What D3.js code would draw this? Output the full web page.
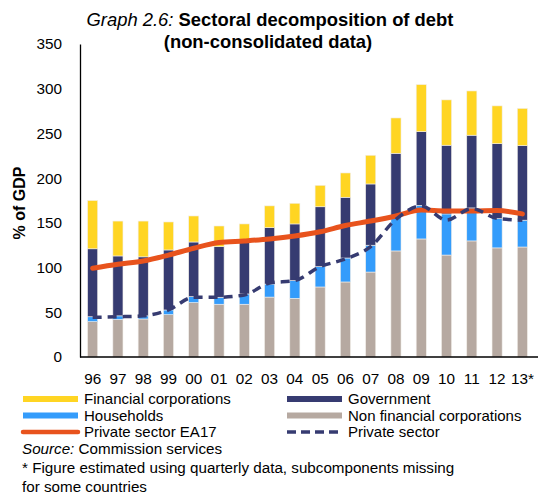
<!DOCTYPE html>
<html><head><meta charset="utf-8">
<script src="https://cdn.jsdelivr.net/npm/d3@7"></script>
<style>body{margin:0;background:#fff}svg{font-family:"Liberation Sans",Arial,sans-serif}</style>
</head><body><svg id="c" width="538" height="495"></svg>
<script>
const years = ["96","97","98","99","00","01","02","03","04","05","06","07","08","09","10","11","12","13*"];
// segment heights (stack order bottom->top)
const nonFinCorp = [39.5,42,42.5,47.3,60.8,59,59,67,65.6,78.3,83.9,95,118.6,132,114,129.8,122,123];
const households = [5.5,4,3.5,5.3,6.7,7.8,11.5,14.6,19.8,22.7,26.8,30,38.4,37.6,46,36.9,32.7,30];
const government = [76,67,66,67.1,61.1,56.6,57.4,63,63.4,67,67.9,68.5,70.8,82.4,76.8,81.3,83.9,83.4];
const financial = [54,39,40,31.3,29.1,23.1,20.9,24.4,23.1,24,27.2,32.1,39.5,52.6,50.7,49.5,42.2,41.6];
const privateEA17 = [99.2,103.7,107.4,114,121.6,128,129.8,132,135.3,140,147,152,157.7,164.4,163.3,163.3,163.7,160];
const privateSector = [44.4,45,46,52.6,66.8,66.8,69.4,82.6,85.5,101,109.6,123.4,154,169,153,166,155,153];
const yTicks = [0,50,100,150,200,250,300,350];

const svg = d3.select("#c");
const x = d3.scaleBand().domain(years).range([80,535]).paddingInner(0.6).paddingOuter(0.3);
const y = d3.scaleLinear().domain([0,350]).range([357,44]);

const keys = ["nfc","hh","gov","fin"];
const colors = {nfc:"#B6A9A1",hh:"#349CFB",gov:"#363B71",fin:"#FFD523"};
const rows = years.map((yr,i)=>({yr,nfc:nonFinCorp[i],hh:households[i],gov:government[i],fin:financial[i]}));
const stack = d3.stack().keys(keys)(rows);

svg.append("g").selectAll("g").data(stack).join("g").attr("fill",d=>colors[d.key])
  .selectAll("rect").data(d=>d).join("rect")
  .attr("x",d=>x(d.data.yr)).attr("width",x.bandwidth())
  .attr("y",d=>y(d[1])).attr("height",d=>y(d[0])-y(d[1]))
  .attr("stroke","#f2eeea").attr("stroke-width",0.6);

const cx = d=>x(d)+x.bandwidth()/2;
const line = d3.line().x((d,i)=>cx(years[i])).y(d=>y(d)).curve(d3.curveMonotoneX);
svg.append("path").attr("d",line(privateEA17)).attr("fill","none")
  .attr("stroke","#E8531D").attr("stroke-width",5).attr("stroke-linecap","round");
svg.append("path").attr("d",line(privateSector)).attr("fill","none")
  .attr("stroke","#363B71").attr("stroke-width",3.5).attr("stroke-dasharray","9,6");

// axes
const ya = svg.append("g").attr("transform","translate(80,0)")
  .call(d3.axisLeft(y).tickValues(yTicks).tickSize(0).tickPadding(18));
ya.select(".domain").attr("stroke","#000").attr("stroke-width",1.3);
ya.selectAll("text").attr("font-size",15.3).attr("fill","#000").attr("font-family","Liberation Sans, Arial");
const xa = svg.append("g").attr("transform","translate(0,357)")
  .call(d3.axisBottom(x).tickSize(0).tickPadding(16));
xa.select(".domain").attr("d","M80,0H538").attr("stroke","#000").attr("stroke-width",1.3);
xa.selectAll("text").attr("font-size",15.3).attr("fill","#000").attr("font-family","Liberation Sans, Arial");

// y title
svg.append("text").attr("transform","translate(25,203) rotate(-90)").attr("text-anchor","middle")
  .attr("font-size",16).attr("font-weight","bold").text("% of GDP");

// title
const t1 = svg.append("text").attr("x",270).attr("y",26).attr("text-anchor","middle").attr("font-size",18.4);
t1.append("tspan").attr("font-style","italic").text("Graph 2.6: ");
t1.append("tspan").attr("font-weight","bold").text("Sectoral decomposition of debt");
svg.append("text").attr("x",268).attr("y",48).attr("text-anchor","middle").attr("font-size",18.4)
  .attr("font-weight","bold").text("(non-consolidated data)");

// legend
const legend = [
  {label:"Financial corporations",color:colors.fin,col:0,row:0,type:"bar"},
  {label:"Government",color:colors.gov,col:1,row:0,type:"bar"},
  {label:"Households",color:colors.hh,col:0,row:1,type:"bar"},
  {label:"Non financial corporations",color:colors.nfc,col:1,row:1,type:"bar"},
  {label:"Private sector EA17",color:"#E8531D",col:0,row:2,type:"line"},
  {label:"Private sector",color:"#363B71",col:1,row:2,type:"dash"}
];
const lg = svg.append("g");
legend.forEach(l=>{
  const x0 = l.col? 287:23, yy = 399 + l.row*16.5;
  const ln = lg.append("line").attr("x1",x0).attr("x2",x0+55).attr("y1",yy).attr("y2",yy)
    .attr("stroke",l.color).attr("stroke-width",l.type==="dash"?3.5:(l.type==="line"?4.5:6));
  if(l.type==="dash") ln.attr("stroke-dasharray","9,5");
  if(l.type==="line") ln.attr("stroke-linecap","round");
  lg.append("text").attr("x",x0+61).attr("y",yy+5).attr("font-size",15).text(l.label);
});
const src = svg.append("text").attr("x",22).attr("y",454).attr("font-size",15.2);
src.append("tspan").attr("font-style","italic").text("Source:");
src.append("tspan").text(" Commission services");
svg.append("text").attr("x",22).attr("y",473).attr("font-size",15.2)
  .text("* Figure estimated using quarterly data, subcomponents missing");
svg.append("text").attr("x",22).attr("y",492).attr("font-size",15.2).text("for some countries");
</script></body></html>
